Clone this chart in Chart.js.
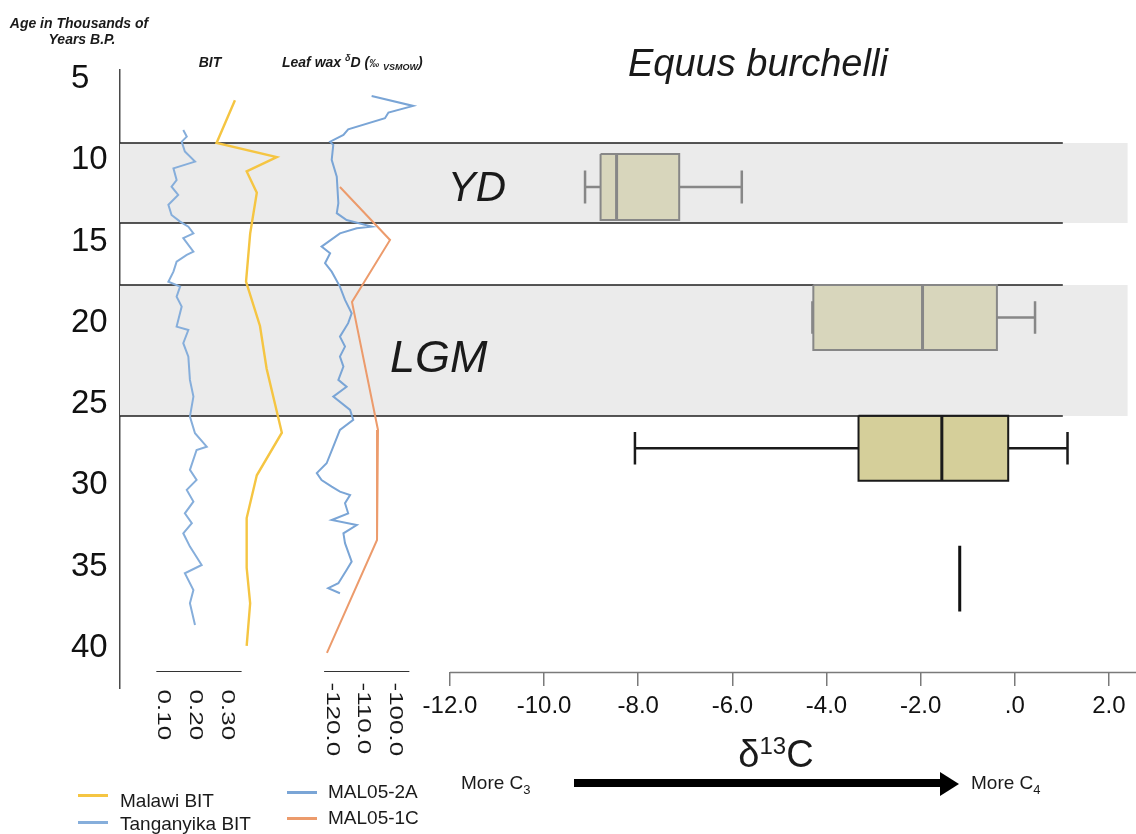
<!DOCTYPE html>
<html><head><meta charset="utf-8">
<script src="https://cdn.jsdelivr.net/npm/chart.js@4.4.1/dist/chart.umd.min.js"></script>
<style>
html,body{margin:0;padding:0;background:#fff;}
#wrap{position:relative;width:1136px;height:834px;overflow:hidden;font-family:'Liberation Sans',Arial,sans-serif;color:#1a1a1a;}
canvas{position:absolute;left:0;top:0;}
.t{position:absolute;white-space:nowrap;line-height:1;}
.b{font-weight:bold;font-style:italic;}
.i{font-style:italic;}
.c{transform:translateX(-50%);}
.sw{position:absolute;width:30px;height:3px;}
</style></head><body>
<div id="wrap">
<canvas id="c" width="1136" height="834"></canvas>

<div class="t b c" style="left:79px;top:15.6px;font-size:14px;">Age in Thousands of</div>
<div class="t b c" style="left:82px;top:32.1px;font-size:14px;">Years B.P.</div>
<div class="t b c" style="left:210px;top:54.6px;font-size:14px;">BIT</div>
<div class="t b" style="left:282px;top:54.6px;font-size:14px;">Leaf wax <span style="font-size:9px;position:relative;top:-6px">δ</span>D (<span style="font-size:10px">‰</span> <span style="font-size:9px;position:relative;top:3px">VSMOW</span>)</div>
<div class="t i" style="left:628px;top:43.8px;font-size:38px;">Equus burchelli</div>
<div class="t i c" style="left:477px;top:166.4px;font-size:42px;">YD</div>
<div class="t i" style="left:390px;top:333.9px;font-size:45px;">LGM</div>
<div class="t c" style="left:776px;top:734.8px;font-size:38px;">δ<span style="font-size:24px;position:relative;top:-13px">13</span>C</div>
<div class="t" style="left:461px;top:772.9px;font-size:19px;">More C<span style="font-size:13px;position:relative;top:5px">3</span></div>
<div class="t" style="left:971px;top:772.9px;font-size:19px;">More C<span style="font-size:13px;position:relative;top:5px">4</span></div>
<div style="position:absolute;left:574px;top:779px;width:366px;height:8px;background:#000;"></div>
<div style="position:absolute;left:940px;top:771.5px;width:0;height:0;border-left:19px solid #000;border-top:12px solid transparent;border-bottom:12px solid transparent;"></div>

<div class="sw" id="sw0" style="left:78px;top:794px;"></div>
<div class="t" style="left:120px;top:790.7px;font-size:19px;">Malawi BIT</div>
<div class="sw" id="sw1" style="left:78px;top:821px;"></div>
<div class="t" style="left:120px;top:813.7px;font-size:19px;">Tanganyika BIT</div>
<div class="sw" id="sw2" style="left:287px;top:790.5px;"></div>
<div class="t" style="left:328px;top:781.7px;font-size:19px;">MAL05-2A</div>
<div class="sw" id="sw3" style="left:287px;top:816.5px;"></div>
<div class="t" style="left:328px;top:807.7px;font-size:19px;">MAL05-1C</div>
</div>
<script>
// ---------- DATA ----------
const ageTicks = [5, 10, 15, 20, 25, 30, 35, 40];
const d13cTicks = [-12, -10, -8, -6, -4, -2, 0, 2];
const bitTicks = [0.10, 0.20, 0.30];
const waxTicks = [-120, -110, -100];

const malawiAge = [6.31, 8.94, 9.81, 10.69, 12.0, 14.52, 17.47, 20.2, 22.83, 26.77, 29.39, 32.02, 35.08, 37.27, 39.89];
const malawiBIT = [0.326, 0.268, 0.458, 0.363, 0.395, 0.374, 0.361, 0.405, 0.426, 0.474, 0.395, 0.363, 0.363, 0.374, 0.363];

const tangAge = [8.14, 8.55, 8.86, 9.47, 10.09, 10.50, 11.22, 11.63, 12.14, 12.75, 13.37, 13.78, 14.09, 14.50, 14.80, 15.63, 15.83, 16.24, 16.86, 17.48, 17.78, 18.40, 19.01, 20.24, 20.45, 21.26, 22.09, 23.52, 24.55, 25.78, 26.80, 27.63, 27.83, 29.06, 29.68, 30.29, 31.01, 31.73, 32.34, 32.96, 33.78, 34.91, 35.42, 36.45, 37.26, 38.60];
const tangBIT = [0.163, 0.174, 0.158, 0.168, 0.200, 0.132, 0.142, 0.126, 0.147, 0.116, 0.126, 0.153, 0.179, 0.195, 0.163, 0.195, 0.174, 0.142, 0.132, 0.116, 0.153, 0.142, 0.158, 0.142, 0.179, 0.163, 0.179, 0.184, 0.195, 0.184, 0.200, 0.237, 0.205, 0.184, 0.205, 0.174, 0.195, 0.168, 0.190, 0.163, 0.184, 0.221, 0.168, 0.195, 0.184, 0.200];

const mal2aAge = [6.05, 6.66, 7.07, 7.42, 8.10, 8.45, 8.86, 9.06, 9.98, 11.01, 12.65, 13.26, 13.68, 14.09, 14.19, 14.50, 15.32, 15.73, 16.34, 16.86, 17.78, 18.60, 19.42, 20.03, 20.86, 21.47, 22.09, 22.70, 23.52, 23.94, 24.55, 25.37, 25.98, 26.60, 27.63, 28.65, 29.26, 29.68, 30.09, 30.40, 30.60, 31.11, 31.73, 32.14, 32.45, 32.96, 33.57, 34.70, 35.22, 36.03, 36.34, 36.65];
const mal2aD = [-107.4, -94.3, -102.1, -103.2, -114.8, -116.3, -120.5, -119.5, -120.0, -118.4, -117.9, -118.4, -115.3, -107.4, -112.1, -117.4, -123.2, -120.5, -122.1, -120.0, -117.4, -115.8, -113.7, -114.8, -117.4, -115.8, -117.4, -116.3, -117.9, -115.3, -119.5, -114.2, -113.2, -117.4, -119.5, -121.6, -124.7, -123.2, -120.0, -117.4, -114.2, -115.8, -114.8, -120.0, -112.1, -116.3, -115.8, -113.7, -115.3, -117.9, -121.1, -117.4];

const mal1cAge = [11.65, 14.91, 18.72, 26.6, 33.37, 40.32];
const mal1cD = [-117.4, -101.6, -113.6, -105.4, -105.7, -121.5];

const bandTop = [8.94, 17.68];
const bandBottom = [13.86, 25.74];

const boxAgeTop = [9.62, 17.68, 25.72];
const boxAgeBottom = [13.68, 21.68, 29.72];
const whiskerLow = [-9.13, -4.30, -8.07];
const q1 = [-8.80, -4.28, -3.32];
const median = [-8.46, -1.96, -1.55];
const q3 = [-7.13, -0.38, -0.14];
const whiskerHigh = [-5.80, 0.43, 1.12];
const singleD13C = [-1.17];
const singleAge = [33.72, 37.78];

// ---------- STYLE / LAYOUT ----------
const FONT = "'Liberation Sans', Arial, sans-serif";
const C_YEL = '#f5c542', C_TANG = '#86aedb', C_2A = '#7aa5d6', C_1C = '#ec9b6c';
const boxFill = ['#d8d6bc', '#d8d6bc', '#d5cf9a'];
const boxStroke = ['#878787', '#878787', '#1a1a1a'];
const axisAge = 41.47;          // age level where bottom axes sit
const xMin = -19.01, xMax = 2.575;
const bandRight = 2.40, edgeRight = 1.02;
const bitAxisRange = [0.078, 0.347], waxAxisRange = [-122.4, -95.5];

document.getElementById('sw0').style.background = C_YEL;
document.getElementById('sw1').style.background = C_TANG;
document.getElementById('sw2').style.background = C_2A;
document.getElementById('sw3').style.background = C_1C;

const T = 'rgba(0,0,0,0)';
const GAP = () => ({x: null, y: null});
const pts = (xs, ys) => xs.map((x, i) => ({x, y: ys[i]}));
const line = (data, color, width, xAxisID, extra) => Object.assign({
  type: 'line', data, borderColor: color, borderWidth: width, pointRadius: 0, pointHoverRadius: 0,
  fill: false, tension: 0, xAxisID, yAxisID: 'y', spanGaps: false, borderJoinStyle: 'miter'
}, extra || {});

const datasets = [
  line(pts(malawiBIT, malawiAge), C_YEL, 2.4, 'xb', {label: 'Malawi BIT'}),
  line(pts(tangBIT, tangAge), C_TANG, 2, 'xb', {label: 'Tanganyika BIT'}),
  line(pts(mal2aD, mal2aAge), C_2A, 2, 'xw', {label: 'MAL05-2A'}),
  line(pts(mal1cD, mal1cAge), C_1C, 2, 'xw', {label: 'MAL05-1C'})
];
datasets.push(line([{x: singleD13C[0], y: singleAge[0]}, {x: singleD13C[0], y: singleAge[1]}], '#111', 3, 'x'));
boxAgeTop.forEach((top, i) => {
  const bot = boxAgeBottom[i], mid = (top + bot) / 2, cap = (bot - top) / 4;
  datasets.push(line([{x: median[i], y: top}, {x: median[i], y: bot}], boxStroke[i], 3, 'x'));
  datasets.push(line([{x: q1[i], y: top}, {x: q3[i], y: top}, {x: q3[i], y: bot}, {x: q1[i], y: bot}, {x: q1[i], y: top}], boxStroke[i], 2, 'x'));
  datasets.push(line([
    {x: whiskerLow[i], y: mid}, {x: q1[i], y: mid}, GAP(),
    {x: q3[i], y: mid}, {x: whiskerHigh[i], y: mid}, GAP(),
    {x: whiskerLow[i], y: mid - cap}, {x: whiskerLow[i], y: mid + cap}, GAP(),
    {x: whiskerHigh[i], y: mid - cap}, {x: whiskerHigh[i], y: mid + cap}
  ], boxStroke[i], 2.5, 'x'));
  datasets.push(line([{x: q1[i], y: top}, {x: q3[i], y: top}], T, 1, 'x', {fill: '+1', backgroundColor: boxFill[i]}));
  datasets.push(line([{x: q1[i], y: bot}, {x: q3[i], y: bot}], T, 1, 'x'));
});
const edges = [];
bandTop.forEach((top, i) => {
  [top, bandBottom[i]].forEach(a => { edges.push({x: xMin, y: a}, {x: edgeRight, y: a}, GAP()); });
});
datasets.push(line(edges, '#1f1f1f', 1.5, 'x'));
bandTop.forEach((top, i) => {
  datasets.push(line([{x: xMin, y: top}, {x: bandRight, y: top}], T, 1, 'x', {fill: '+1', backgroundColor: '#ebebeb'}));
  datasets.push(line([{x: xMin, y: bandBottom[i]}, {x: bandRight, y: bandBottom[i]}], T, 1, 'x'));
});

const smallAxes = {
  id: 'smallAxes',
  afterDraw(chart) {
    const ctx = chart.ctx, ys = chart.scales.y, xs = chart.scales.x;
    const yPix = Math.round(ys.getPixelForValue(axisAge)) + 0.5;
    ctx.save();
    ctx.strokeStyle = '#7a7a7a'; ctx.lineWidth = 1.5;
    ctx.beginPath(); ctx.moveTo(xs.getPixelForValue(d13cTicks[0]), yPix); ctx.lineTo(chart.chartArea.right, yPix); ctx.stroke();
    [['xb', bitAxisRange, bitTicks, v => v.toFixed(2), 17],
     ['xw', waxAxisRange, waxTicks, v => v.toFixed(1), 10]].forEach(([id, rng, ticks, fmt, off]) => {
      const s = chart.scales[id];
      ctx.strokeStyle = '#333'; ctx.lineWidth = 1.2;
      ctx.beginPath(); ctx.moveTo(s.getPixelForValue(rng[0]), yPix - 1); ctx.lineTo(s.getPixelForValue(rng[1]), yPix - 1); ctx.stroke();
      ctx.fillStyle = '#1a1a1a'; ctx.font = '26px ' + FONT;
      ctx.textAlign = 'left'; ctx.textBaseline = 'middle';
      ticks.forEach(t => {
        ctx.save();
        ctx.translate(s.getPixelForValue(t), yPix + off);
        ctx.scale(0.7, 1);
        ctx.rotate(Math.PI / 2);
        ctx.fillText(fmt(t), 0, 0);
        ctx.restore();
      });
    });
    ctx.restore();
  }
};

Chart.defaults.font.family = FONT;
new Chart(document.getElementById('c'), {
  type: 'line',
  data: {datasets},
  options: {
    responsive: false, animation: false, events: [],
    layout: {padding: {left: 71, top: 70, bottom: 146, right: 0}},
    plugins: {legend: {display: false}, tooltip: {enabled: false}, filler: {drawTime: 'beforeDatasetsDraw'}},
    scales: {
      y: {
        type: 'linear', position: 'left', reverse: true, min: 4.45, max: 42.48,
        afterFit: s => { s.width = 49; },
        afterBuildTicks: s => { s.ticks = ageTicks.map(v => ({value: v})); },
        ticks: {autoSkip: false, crossAlign: 'far', padding: 0, color: '#111', font: {size: 33}},
        grid: {display: false},
        border: {display: true, color: '#4a4a4a', width: 1.5}
      },
      x: {
        type: 'linear', position: {y: axisAge}, min: xMin, max: xMax,
        afterBuildTicks: s => { s.ticks = d13cTicks.map(v => ({value: v})); },
        ticks: {autoSkip: false, maxRotation: 0, minRotation: 0, padding: 6, color: '#111', font: {size: 24},
          callback: v => v === 0 ? '.0' : Number(v).toFixed(1)},
        grid: {display: true, drawOnChartArea: false, drawTicks: true, tickLength: 14, color: '#7a7a7a', lineWidth: 1.5},
        border: {display: false}
      },
      xb: {type: 'linear', display: false, min: -0.0366, max: 3.1685},
      xw: {type: 'linear', display: false, min: -186.78, max: 133.72}
    }
  },
  plugins: [smallAxes]
});
</script>
</body></html>
